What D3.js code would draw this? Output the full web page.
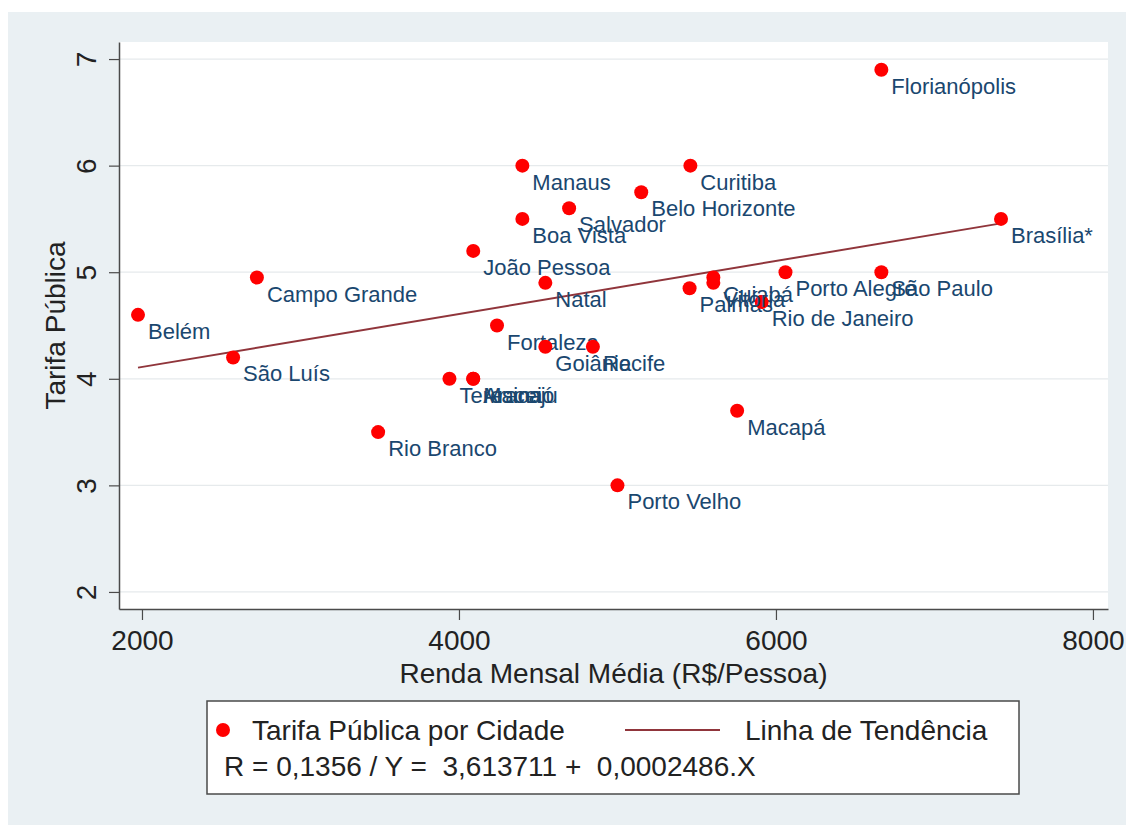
<!DOCTYPE html>
<html>
<head>
<meta charset="utf-8">
<script src="https://cdn.jsdelivr.net/npm/d3@7"></script>
<style>
  html, body { margin: 0; padding: 0; background: #ffffff; }
  svg { display: block; font-family: "Liberation Sans", Arial, Helvetica, sans-serif; }
</style>
</head>
<body>
<svg id="chart" width="1126" height="825"></svg>
<script>
// Capitais: renda mensal média (R$/pessoa) e tarifa de ônibus (R$)
const cidades = ["Aracaju", "Belo Horizonte", "Belém", "Boa Vista", "Brasília*", "Campo Grande",
  "Cuiabá", "Curitiba", "Florianópolis", "Fortaleza", "Goiânia", "João Pessoa", "Macapá",
  "Maceió", "Manaus", "Natal", "Palmas", "Porto Alegre", "Porto Velho", "Recife",
  "Rio Branco", "Rio de Janeiro", "Salvador", "São Luís", "São Paulo", "Teresina", "Vitória"];
const renda = [4090, 5150, 1975, 4400, 7420, 2725,
  5605, 5460, 6665, 4240, 4545, 4090, 5755,
  4090, 4400, 4545, 5455, 6060, 5000, 4845,
  3490, 5910, 4695, 2575, 6665, 3940, 5605];
const tarifa = [4.0, 5.75, 4.6, 5.5, 5.5, 4.95,
  4.95, 6.0, 6.9, 4.5, 4.3, 5.2, 3.7,
  4.0, 6.0, 4.9, 4.85, 5.0, 3.0, 4.3,
  3.5, 4.72, 5.6, 4.2, 5.0, 4.0, 4.9];

// Linha de tendência (ajuste linear)
const intercepto = 3.613711;
const inclinacao = 0.0002486;

const xTicks = [2000, 4000, 6000, 8000];
const yTicks = [2, 3, 4, 5, 6, 7];

const svg = d3.select("#chart");
const W = 1126, H = 825;
const plot = { left: 119, right: 1108, top: 42, bottom: 609 };

const x = d3.scaleLinear().domain([1855, 8095]).range([plot.left, plot.right]);
const y = d3.scaleLinear().domain([1.84, 7.16]).range([plot.bottom, plot.top]);

// área externa do gráfico
svg.append("rect").attr("x", 0).attr("y", 0).attr("width", W).attr("height", H).attr("fill", "#ffffff");
svg.append("rect").attr("x", 8).attr("y", 12).attr("width", W - 8).attr("height", H - 12).attr("fill", "#eaf0f3");

// área de plotagem
svg.append("rect")
  .attr("x", plot.left).attr("y", plot.top)
  .attr("width", plot.right - plot.left).attr("height", plot.bottom - plot.top)
  .attr("fill", "#ffffff");

// linhas de grade horizontais
svg.append("g").selectAll("line").data(yTicks).join("line")
  .attr("x1", plot.left).attr("x2", plot.right)
  .attr("y1", d => y(d)).attr("y2", d => y(d))
  .attr("stroke", "#e6eaec").attr("stroke-width", 1.2);

// eixo Y
const yAxis = svg.append("g")
  .attr("transform", `translate(${plot.left},0)`)
  .call(d3.axisLeft(y).tickValues(yTicks).tickSize(10).tickSizeOuter(0).tickFormat(d3.format("d")));
yAxis.select(".domain").attr("stroke", "#4a4a4a").attr("stroke-width", 1.5);
yAxis.selectAll(".tick line").attr("stroke", "#4a4a4a").attr("stroke-width", 1.2);
yAxis.selectAll(".tick text")
  .attr("x", null).attr("dy", null)
  .attr("transform", "translate(-33,0) rotate(-90)")
  .attr("text-anchor", "middle").attr("dy", "0.35em")
  .attr("font-size", 28).attr("fill", "#222")
  .attr("font-family", "'Liberation Sans', Arial, Helvetica, sans-serif");

// eixo X
const xAxis = svg.append("g")
  .attr("transform", `translate(0,${plot.bottom})`)
  .call(d3.axisBottom(x).tickValues(xTicks).tickSize(11).tickSizeOuter(0).tickFormat(d3.format("d")));
xAxis.select(".domain").attr("stroke", "#4a4a4a").attr("stroke-width", 1.5);
xAxis.selectAll(".tick line").attr("stroke", "#4a4a4a").attr("stroke-width", 1.2);
xAxis.selectAll(".tick text")
  .attr("y", 41).attr("dy", null)
  .attr("font-size", 28).attr("fill", "#222")
  .attr("font-family", "'Liberation Sans', Arial, Helvetica, sans-serif");

// títulos dos eixos
svg.append("text")
  .attr("x", (plot.left + plot.right) / 2).attr("y", 683)
  .attr("text-anchor", "middle").attr("font-size", 28).attr("fill", "#222")
  .text("Renda Mensal Média (R$/Pessoa)");
svg.append("text")
  .attr("transform", `translate(55,${(plot.top + plot.bottom) / 2}) rotate(-90)`)
  .attr("text-anchor", "middle").attr("dy", "0.35em")
  .attr("font-size", 28).attr("fill", "#222")
  .text("Tarifa Pública");

// linha de tendência entre a menor e a maior renda
const xMin = d3.min(renda), xMax = d3.max(renda);
const tendencia = [xMin, xMax].map(v => [v, intercepto + inclinacao * v]);
svg.append("path")
  .datum(tendencia)
  .attr("d", d3.line().x(d => x(d[0])).y(d => y(d[1])))
  .attr("fill", "none").attr("stroke", "#90353b").attr("stroke-width", 2);

// pontos e rótulos por cidade
const dados = cidades.map((c, i) => ({ cidade: c, renda: renda[i], tarifa: tarifa[i] }));
const grupos = svg.append("g").selectAll("g").data(dados).join("g");
grupos.append("circle")
  .attr("cx", d => x(d.renda)).attr("cy", d => y(d.tarifa))
  .attr("r", 7).attr("fill", "#ff0000");
grupos.append("text")
  .attr("x", d => x(d.renda) + 10).attr("y", d => y(d.tarifa) + 24)
  .attr("font-size", 22).attr("fill", "#1a476f")
  .text(d => d.cidade);

// legenda
const leg = svg.append("g");
leg.append("rect")
  .attr("x", 207).attr("y", 701).attr("width", 812).attr("height", 93)
  .attr("fill", "#ffffff").attr("stroke", "#4a4a4a").attr("stroke-width", 1.5);
leg.append("circle").attr("cx", 223).attr("cy", 730).attr("r", 7).attr("fill", "#ff0000");
leg.append("text").attr("x", 252).attr("y", 740).attr("font-size", 28).attr("fill", "#222")
  .text("Tarifa Pública por Cidade");
leg.append("line").attr("x1", 625).attr("x2", 720).attr("y1", 730).attr("y2", 730)
  .attr("stroke", "#90353b").attr("stroke-width", 2);
leg.append("text").attr("x", 745).attr("y", 740).attr("font-size", 28).attr("fill", "#222")
  .text("Linha de Tendência");
leg.append("text").attr("x", 224).attr("y", 776).attr("font-size", 28).attr("fill", "#222")
  .attr("xml:space", "preserve").style("white-space", "pre")
  .text("R = 0,1356 / Y =  3,613711 +  0,0002486.X");
</script>
</body>
</html>
